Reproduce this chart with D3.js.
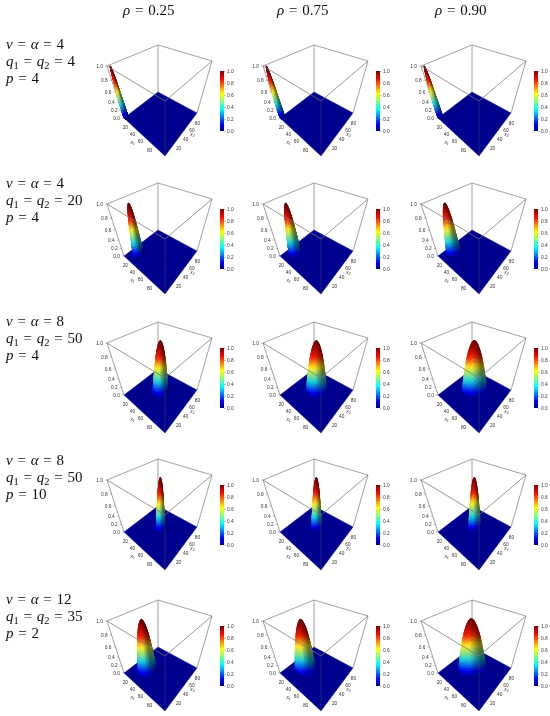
<!DOCTYPE html>
<html><head><meta charset="utf-8">
<script src="https://cdn.jsdelivr.net/npm/d3@7/dist/d3.min.js"></script>
<style>html,body{margin:0;padding:0;background:#fff}svg{display:block;filter:blur(.35px)}</style>
</head><body><div id="chart"></div>
<script>
// ---------- data ----------
const rhoValues = ["0.25", "0.75", "0.90"];
const nuAlpha = [4, 4, 8, 8, 12];
const qValues = [4, 20, 50, 50, 35];
const pValues = [4, 4, 4, 10, 2];
const zTicks = [0, 0.2, 0.4, 0.6, 0.8, 1];
const xTicks = [20, 40, 60, 80];
// location of each peak on the x1 = x2 diagonal (rows x columns)
const peakCentres = [
  [3, 3, 3],
  [20, 21, 22],
  [50, 50, 50],
  [50, 50, 50],
  [32, 35, 47]
];
// spacing of the height samples in x1/x2 units (rows x columns)
const peakSpacing = [
  [1, 1, 1],
  [2.3, 2.2, 2.5],
  [3.4, 3.8, 4.5],
  [1.9, 1.8, 2.1],
  [4.2, 3.8, 5]
];
// estimated surface heights in percent, one table per rho column
const heightsRho25 = [
  [0,0,0,2,0,0,0,0,0],
  [0,8,25,35,31,17,0,0,0],
  [0,25,52,67,67,52,25,0,0],
  [2,35,67,87,91,79,52,17,0],
  [0,31,67,91,100,91,67,31,0],
  [0,17,52,79,91,87,67,35,2],
  [0,0,25,52,67,67,52,25,0],
  [0,0,0,17,31,35,25,8,0],
  [0,0,0,0,0,2,0,0,0]
];
const heightsRho75 = [
  [0,10,14,10,0,0,0,0,0],
  [10,31,45,45,31,10,0,0,0],
  [14,45,67,75,67,45,14,0,0],
  [10,45,75,91,91,75,45,10,0],
  [0,31,67,91,100,91,67,31,0],
  [0,10,45,75,91,91,75,45,10],
  [0,0,14,45,67,75,67,45,14],
  [0,0,0,10,31,45,45,31,10],
  [0,0,0,0,0,10,14,10,0]
];
const heightsRho90 = [
  [1,10,5,0,0,0,0,0,0],
  [10,34,42,29,4,0,0,0,0],
  [5,42,68,71,49,12,0,0,0],
  [0,29,71,91,87,56,12,0,0],
  [0,4,49,87,100,87,49,4,0],
  [0,0,12,56,87,91,71,29,0],
  [0,0,0,12,49,71,68,42,5],
  [0,0,0,0,4,29,42,34,10],
  [0,0,0,0,0,0,5,10,1]
];
const heightTables = [heightsRho25, heightsRho75, heightsRho90];

// ---------- layout ----------
const W = 550, H = 716;
const colDx = [0, 156, 314];
const rowDy = [0, 138, 277, 414, 555];
const labelDy = [0, 139, 277, 416, 555];
const topQuad = {left:[107,66], front:[165,101], right:[212,61], back:[158,45]};
const floorQuad = {left:[124,118], front:[165,156], right:[197,113], back:[158,92]};
const perspectiveA = 0.667;
const refine = 5;

const svg = d3.select("#chart").append("svg").attr("width", W).attr("height", H)
  .attr("viewBox", [0,0,W,H]).style("font-family","'Liberation Sans',Arial,sans-serif");

const jet = d3.scaleLinear()
  .domain([0, .11, .36, .62, .87, 1])
  .range(["#00008f","#0000ff","#00ffff","#ffff00","#ff0000","#7f0000"]);
const surfaceJet = d3.scaleLinear()
  .domain([0, .1, .34, .6, .78, .97])
  .range(["#00008f","#0000d8","#18bcc8","#e4d820","#d81808","#720000"]).clamp(true);
const xScale = d3.scaleLinear().domain([0,100]).range([0,1]).clamp(true);

function homography(q){
  const [x0,y0]=q.left,[x1,y1]=q.front,[x2,y2]=q.right,[x3,y3]=q.back;
  const dx1=x1-x2,dx2=x3-x2,dy1=y1-y2,dy2=y3-y2;
  const sx=x0-x1+x2-x3, sy=y0-y1+y2-y3, d=dx1*dy2-dx2*dy1;
  const g=(sx*dy2-dx2*sy)/d, h=(dx1*sy-sx*dy1)/d;
  const a=x1-x0+g*x1,b=x3-x0+h*x3,dd=y1-y0+g*y1,e=y3-y0+h*y3;
  return (u,v)=>{const w=g*u+h*v+1;return [(a*u+b*v+x0)/w,(dd*u+e*v+y0)/w];};
}
const Htop = homography(topQuad), Hfloor = homography(floorQuad);
const heightT = w => w*perspectiveA/(w*perspectiveA+1-w);
function project(x1,x2,w){
  const u=xScale(x1), v=xScale(x2), t=heightT(w);
  const f=Hfloor(u,v), c=Htop(u,v);
  return [f[0]+(c[0]-f[0])*t, f[1]+(c[1]-f[1])*t];
}
// Catmull-Rom mesh refinement used only for drawing a smooth surface
function cr(a,b,c,d,t){return .5*(2*b+(c-a)*t+(2*a-5*b+4*c-d)*t*t+(3*b-a-3*c+d)*t*t*t);}
function sample(table,fi,fj){
  const n=table.length-1, i=Math.min(Math.floor(fi),n-1), j=Math.min(Math.floor(fj),n-1);
  const ti=fi-i,tj=fj-j, cl=k=>Math.max(0,Math.min(n,k));
  const rows=[-1,0,1,2].map(di=>{
    const r=table[cl(i+di)];
    return cr(r[cl(j-1)],r[cl(j)],r[cl(j+1)],r[cl(j+2)],tj);
  });
  return Math.max(0,Math.min(100,cr(rows[0],rows[1],rows[2],rows[3],ti)))/100;
}
// light comes from the left of the view: right-hand flanks go darker
function shaded(w,slope){
  const base=d3.rgb(surfaceJet(d3.mean(w)));
  const f=Math.max(.55,Math.min(1.12,1+1.1*slope));
  return d3.rgb(Math.min(255,base.r*f),Math.min(255,base.g*f),Math.min(255,base.b*f)).formatHex();
}

const line = d3.line();
function panel(r,c){
  const g = svg.append("g").attr("transform",`translate(${colDx[c]},${rowDy[r]})`);
  const P = project;
  const boxBack = "#8a8a8a", boxFront = "#777";
  const seg=(gg,a,b,col,sw,op)=>gg.append("path").attr("d",line([a,b])).attr("fill","none")
     .attr("stroke",col).attr("stroke-width",sw).attr("opacity",op);
  const tl=P(0,0,1),tf=P(100,0,1),tr=P(100,100,1),tb=P(0,100,1);
  const fl=P(0,0,0),ff=P(100,0,0),fr=P(100,100,0),fb=P(0,100,0);
  [[tl,tb],[tb,tr],[tb,fb],[tl,fl],[tr,fr]].forEach(e=>seg(g,e[0],e[1],boxBack,.8,1));
  g.append("path").attr("d",line([fl,ff,fr,fb])+"Z").attr("fill",jet(0)).attr("stroke",jet(0)).attr("stroke-width",.4);
  const table=heightTables[c], n=table.length-1, cen=peakCentres[r][c], st=peakSpacing[r][c];
  const mid=n/2, m=n*refine, quads=[];
  const coord=k=>cen+(k/refine-mid)*st;
  const zs=d3.range(m+1).map(i=>d3.range(m+1).map(j=>sample(table,i/refine,j/refine)));
  const cl=k=>Math.max(0,Math.min(m,k));
  for(let i=0;i<m;i++)for(let j=0;j<m;j++){
    const w=[zs[i][j],zs[i+1][j],zs[i+1][j+1],zs[i][j+1]];
    if(d3.max(w)<.012) continue;
    const slope=(zs[cl(i+refine)][cl(j+refine)]-zs[cl(i-refine+1)][cl(j-refine+1)]);
    quads.push({i,j,w,slope,depth:coord(i)-coord(j),
      pts:[P(coord(i),coord(j),w[0]),P(coord(i+1),coord(j),w[1]),P(coord(i+1),coord(j+1),w[2]),P(coord(i),coord(j+1),w[3])]});
  }
  quads.sort((a,b)=>d3.ascending(a.depth,b.depth));
  g.append("g").selectAll("path").data(quads).join("path")
    .attr("d",d=>line(d.pts)+"Z")
    .attr("fill",d=>shaded(d.w,d.slope))
    .attr("stroke",d=>shaded(d.w,d.slope))
    .attr("stroke-width",.35);
  [[tl,tf],[tf,tr]].forEach(e=>seg(g,e[0],e[1],boxFront,.8,.95));
  seg(g,tf,ff,"#555",.7,.55);
  const lab=(p,dx,dy,t,anchor="middle")=>g.append("text").attr("x",p[0]+dx).attr("y",p[1]+dy)
    .attr("text-anchor",anchor).attr("font-size",4.8).attr("fill","#333").text(t);
  zTicks.forEach(z=>{
    const p=P(0,0,z);
    lab(p,-4,1.6,d3.format(".1f")(z),"end");
    seg(g,p,[p[0]-2,p[1]],"#555",.4,1);
  });
  xTicks.forEach(t=>{
    lab(P(t,0,0),-5,5.5,t);
    lab(P(100,t,0),5.5,5,t);
  });
  const a1=P(60,0,0), a2=P(100,50,0);
  lab(a1,-13,6,"x₁").attr("font-style","italic");
  lab(a2,9,5,"x₂").attr("font-style","italic");
  const cbY=d3.scaleLinear().domain([0,1]).range([131,71]);
  const cbX=220;
  const defsId=`cb${r}${c}`;
  const grad=g.append("defs").append("linearGradient").attr("id",defsId)
     .attr("x1",0).attr("x2",0).attr("y1",1).attr("y2",0);
  jet.domain().forEach(d=>grad.append("stop").attr("offset",d).attr("stop-color",jet(d)));
  g.append("rect").attr("x",cbX).attr("y",cbY(1)).attr("width",4).attr("height",cbY(0)-cbY(1)).attr("fill",`url(#${defsId})`);
  const ax=g.append("g").attr("transform",`translate(${cbX+4},0)`)
    .call(d3.axisRight(cbY).tickValues(zTicks).tickFormat(d3.format(".1f")).tickSize(1.5).tickPadding(1.5));
  ax.select(".domain").remove();
  ax.selectAll("line").attr("stroke","#555").attr("stroke-width",.4);
  ax.selectAll("text").attr("font-size",4.8).attr("fill","#333").attr("font-family","'Liberation Sans',Arial,sans-serif");
}

const serif = "'Liberation Serif','Times New Roman',serif";
function mathText(x,y,parts,size){
  const t=svg.append("text").attr("x",x).attr("y",y).attr("font-family",serif).attr("font-size",size)
    .attr("fill","#111").attr("word-spacing",1);
  let shift=0;
  parts.forEach(pt=>{
    const s=t.append("tspan").text(pt.t);
    if(pt.i) s.attr("font-style","italic");
    const want=pt.sub?size*.22:0;
    if(want!==shift){ s.attr("dy",want-shift); shift=want; }
    if(pt.sub) s.attr("font-size",size*.7);
  });
  return t;
}
const headX=[123,277,435];
const fs=15;
rhoValues.forEach((v,c)=>mathText(headX[c],15,[{t:"ρ",i:1},{t:" = "+v}],fs));
nuAlpha.forEach((na,r)=>{
  const y=labelDy[r];
  mathText(6,49+y,[{t:"ν",i:1},{t:" = "},{t:"α",i:1},{t:" = "+na}],fs);
  mathText(6,66+y,[{t:"q",i:1},{t:"1",sub:1},{t:" = "},{t:"q",i:1},{t:"2",sub:1},{t:" = "+qValues[r]}],fs);
  mathText(6,83+y,[{t:"p",i:1},{t:" = "+pValues[r]}],fs);
});
d3.range(5).forEach(r=>d3.range(3).forEach(c=>panel(r,c)));
</script></body></html>
